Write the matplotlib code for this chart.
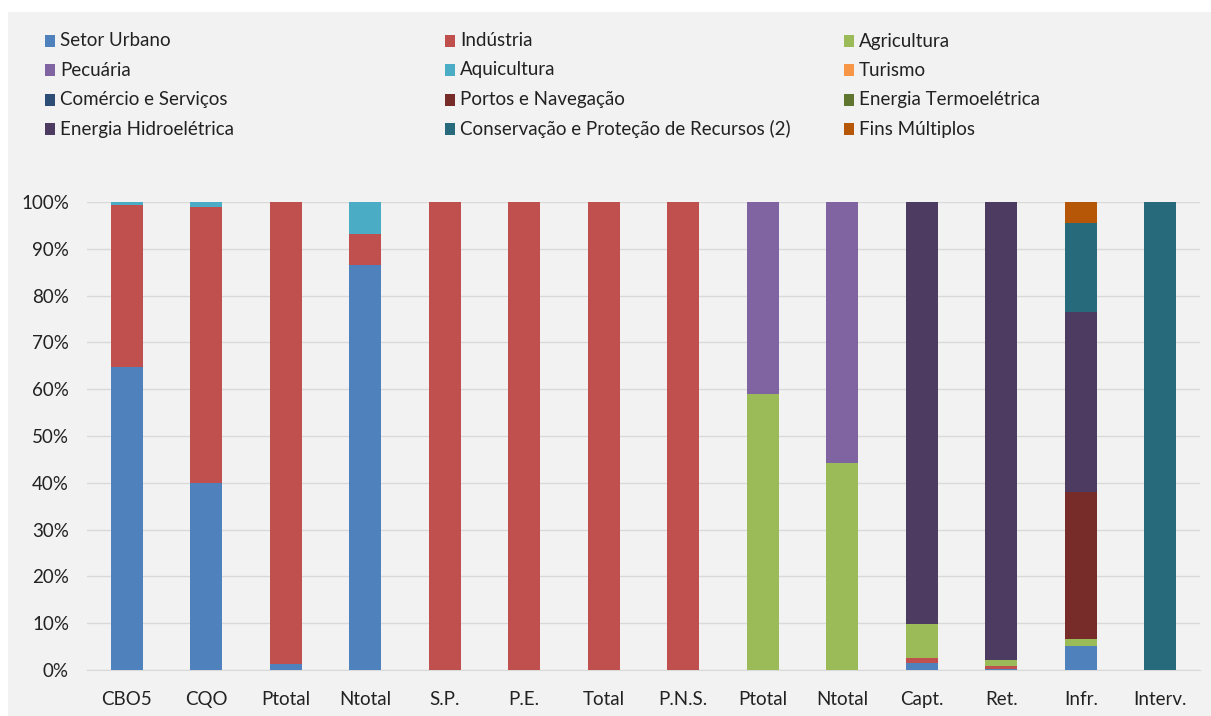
import matplotlib.pyplot as plt
import matplotlib.patches as mpatches
import numpy as np

plt.rcParams['font.family'] = ['Lato', 'DejaVu Sans']

categories = ['CBO5', 'CQO', 'Ptotal', 'Ntotal', 'S.P.', 'P.E.', 'Total', 'P.N.S.',
              'Ptotal', 'Ntotal', 'Capt.', 'Ret.', 'Infr.', 'Interv.']

series = ['Setor Urbano', 'Indústria', 'Agricultura', 'Pecuária', 'Aquicultura', 'Turismo',
          'Comércio e Serviços', 'Portos e Navegação', 'Energia Termoelétrica',
          'Energia Hidroelétrica', 'Conservação e Proteção de Recursos (2)', 'Fins Múltiplos']

colors = ['#4F81BD', '#C0504D', '#9BBB59', '#8064A2', '#4BACC6', '#F79646',
          '#2C4D75', '#772C2A', '#5F7530', '#4D3B62', '#276A7C', '#B65708']

# percent values per series, one entry per category
setor_urbano = [64.7, 40.0, 1.2, 86.5, 0, 0, 0, 0, 0, 0, 1.6, 0.3, 5.1, 0]
industria    = [34.7, 59.0, 98.8, 6.7, 100, 100, 100, 100, 0, 0, 1.0, 0.6, 0, 0]
agricultura  = [0, 0, 0, 0, 0, 0, 0, 0, 59.0, 44.2, 7.2, 1.2, 1.6, 0]
pecuaria     = [0, 0, 0, 0, 0, 0, 0, 0, 41.0, 55.8, 0, 0, 0, 0]
aquicultura  = [0.6, 1.0, 0, 6.8, 0, 0, 0, 0, 0, 0, 0, 0, 0, 0]
turismo      = [0] * 14
comercio     = [0] * 14
portos       = [0, 0, 0, 0, 0, 0, 0, 0, 0, 0, 0, 0, 31.3, 0]
termo        = [0] * 14
hidro        = [0, 0, 0, 0, 0, 0, 0, 0, 0, 0, 90.2, 97.9, 38.6, 0]
conservacao  = [0, 0, 0, 0, 0, 0, 0, 0, 0, 0, 0, 0, 18.9, 100]
fins_mult    = [0, 0, 0, 0, 0, 0, 0, 0, 0, 0, 0, 0, 4.5, 0]

values = [setor_urbano, industria, agricultura, pecuaria, aquicultura, turismo,
          comercio, portos, termo, hidro, conservacao, fins_mult]

W, H = 1211, 716
fig = plt.figure(figsize=(W / 100, H / 100), dpi=100)
fig.patch.set_facecolor('white')
# gray chart area
fig.patches.append(mpatches.Rectangle((8 / W, 0), 1, 1 - 12 / H, transform=fig.transFigure,
                                      facecolor='#F2F2F2', edgecolor='none', zorder=-10))

ax = fig.add_axes([87 / W, (H - 670) / H, (1200 - 87) / W, (670 - 202) / H])
ax.set_facecolor('#F2F2F2')

x = np.arange(len(categories))
bottom = np.zeros(len(categories))
for name, vals, c in zip(series, values, colors):
    vals = np.array(vals, dtype=float)
    ax.bar(x, vals, 0.40, bottom=bottom, color=c, edgecolor='none', zorder=3)
    bottom += vals

ax.set_xlim(-0.5, len(categories) - 0.5)
ax.set_ylim(0, 100)
ax.set_yticks(np.arange(0, 101, 10))
ax.set_yticklabels([f'{v}%' for v in range(0, 101, 10)])
ax.set_xticks(x)
ax.set_xticklabels(categories)
ax.tick_params(axis='both', length=0, labelsize=13.5, colors='#222222')
ax.tick_params(axis='y', pad=13)
ax.tick_params(axis='x', pad=15)
ax.grid(axis='y', color='#D9D9D9', linewidth=1, zorder=0)
for s in ['top', 'right', 'left']:
    ax.spines[s].set_visible(False)
ax.spines['bottom'].set_color('#D9D9D9')

# legend, 3 columns x 4 rows
col_x = [45, 445, 844]
row_y = [41, 70, 100, 129]
for i, (name, c) in enumerate(zip(series, colors)):
    r, k = divmod(i, 3)
    xx, yy = col_x[k], row_y[r]
    fig.patches.append(mpatches.Rectangle((xx / W, (H - yy - 6) / H), 10 / W, 12 / H,
                                          transform=fig.transFigure, facecolor=c,
                                          edgecolor='none'))
    fig.text((xx + 15) / W, (H - yy) / H, name, fontsize=13.5, color='#222222',
             va='center', ha='left')

fig.savefig('out.png', dpi=100)
